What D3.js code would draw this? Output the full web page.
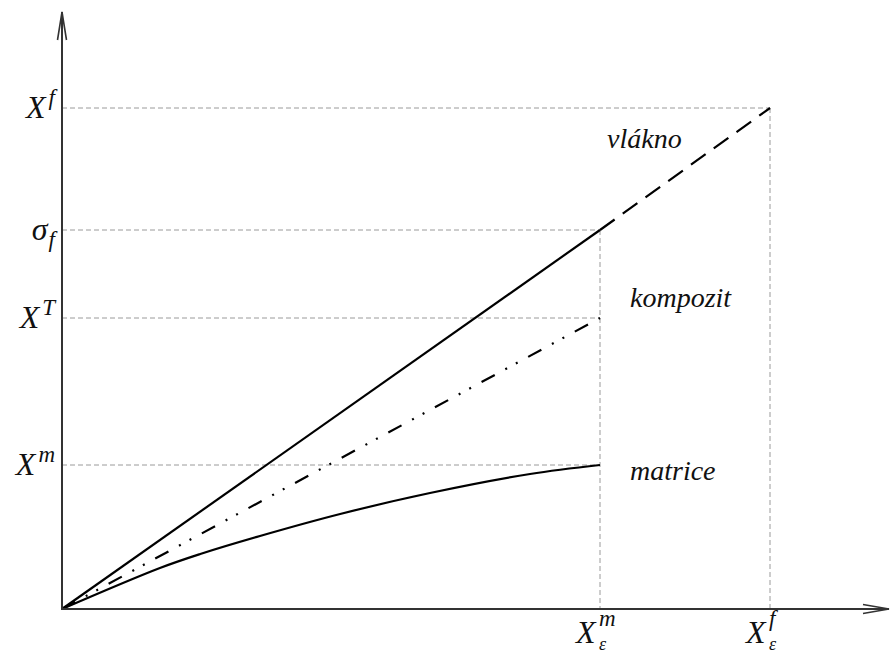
<!DOCTYPE html>
<html>
<head>
<meta charset="utf-8">
<script src="https://cdnjs.cloudflare.com/ajax/libs/d3/7.8.5/d3.min.js"></script>
<style>
  body { margin: 0; background: #fff; }
  text { font-family: 'Liberation Serif', 'DejaVu Serif', serif; font-style: italic; fill: #111; }
</style>
</head>
<body>
<svg id="chart" width="891" height="655"></svg>
<script>
// strain (x) in units of X_eps^m, stress (y) in arbitrary units
var strainLimits = [1.0, 1.316];          // X_eps^m, X_eps^f
var stressLevels = [5.01, 3.79, 2.91, 1.44]; // X^f, sigma_f, X^T, X^m
var stressNames = ["X", "σ", "X", "X"];
var stressMarks = ["f", "f", "T", "m"];
var stressMarkType = ["sup", "sub", "sup", "sup"];

// matrix curve (concave)
var matrixX = [0, 0.182, 0.257, 0.368, 0.517, 0.684, 0.870, 1.0];
var matrixY = [0, 0.41, 0.55, 0.73, 0.95, 1.16, 1.35, 1.44];

var curveNames = ["vlákno", "kompozit", "matrice"];

var svg = d3.select("#chart");

var x = d3.scaleLinear().domain([0, 1]).range([62, 600]);
var y = d3.scaleLinear().domain([0, 1]).range([609, 509]);

var xMax = x.invert(889), yMax = y.invert(12);

// grey guide lines
var guides = svg.append("g")
  .attr("stroke", "#9a9a9a")
  .attr("stroke-width", 1)
  .attr("stroke-dasharray", "5,3")
  .attr("fill", "none");

guides.append("line").attr("x1", x(0)).attr("x2", x(strainLimits[1])).attr("y1", y(stressLevels[0])).attr("y2", y(stressLevels[0]));
guides.append("line").attr("x1", x(0)).attr("x2", x(strainLimits[0])).attr("y1", y(stressLevels[1])).attr("y2", y(stressLevels[1]));
guides.append("line").attr("x1", x(0)).attr("x2", x(strainLimits[0])).attr("y1", y(stressLevels[2])).attr("y2", y(stressLevels[2]));
guides.append("line").attr("x1", x(0)).attr("x2", x(strainLimits[0])).attr("y1", y(stressLevels[3])).attr("y2", y(stressLevels[3]));
guides.append("line").attr("x1", x(strainLimits[0])).attr("x2", x(strainLimits[0])).attr("y1", y(stressLevels[1])).attr("y2", y(0));
guides.append("line").attr("x1", x(strainLimits[1])).attr("x2", x(strainLimits[1])).attr("y1", y(stressLevels[0])).attr("y2", y(0));

var line = d3.line().x(function(d) { return x(d[0]); }).y(function(d) { return y(d[1]); });

// fibre: solid up to X_eps^m, dashed to X_eps^f
svg.append("path")
  .attr("d", line([[0, 0], [strainLimits[0], stressLevels[1]]]))
  .attr("stroke", "#000").attr("stroke-width", 2.2).attr("fill", "none");
svg.append("path")
  .attr("d", line([[strainLimits[0], stressLevels[1]], [strainLimits[1], stressLevels[0]]]))
  .attr("stroke", "#000").attr("stroke-width", 2.2).attr("fill", "none")
  .attr("stroke-dasharray", "18,10");

// composite: dash-dot-dot
svg.append("path")
  .attr("d", line([[0, 0], [strainLimits[0], stressLevels[2]]]))
  .attr("stroke", "#000").attr("stroke-width", 2.2).attr("fill", "none")
  .attr("stroke-dasharray", "15,12,2,10,2,12");

// matrix
svg.append("path")
  .datum(d3.zip(matrixX, matrixY))
  .attr("d", line.curve(d3.curveCatmullRom))
  .attr("stroke", "#000").attr("stroke-width", 2.2).attr("fill", "none");

// axes with open arrowheads
var axes = svg.append("g").attr("stroke", "#333").attr("stroke-width", 2).attr("fill", "none");
axes.append("line").attr("x1", x(0)).attr("y1", y(0) + 1).attr("x2", x(0)).attr("y2", y(yMax));
axes.append("line").attr("x1", x(0) - 1).attr("y1", y(0)).attr("x2", x(xMax)).attr("y2", y(0));
axes.append("path").attr("stroke-width", 1.6)
  .attr("d", "M" + (x(0) - 4.5) + "," + (y(yMax) + 28) + "L" + x(0) + "," + y(yMax) + "L" + (x(0) + 4.5) + "," + (y(yMax) + 28));
axes.append("path").attr("stroke-width", 1.6)
  .attr("d", "M" + (x(xMax) - 26) + "," + (y(0) - 4.5) + "L" + x(xMax) + "," + y(0) + "L" + (x(xMax) - 26) + "," + (y(0) + 4.5));

// y labels
stressLevels.forEach(function(v, i) {
  var t = svg.append("text")
    .attr("x", x(0) - 7)
    .attr("y", y(v) + 10)
    .attr("text-anchor", "end")
    .style("font-size", "32px");
  t.append("tspan").text(stressNames[i]);
  t.append("tspan")
    .attr("dx", stressMarkType[i] === "sup" ? 3 : 1)
    .attr("dy", stressMarkType[i] === "sup" ? -13 : 7)
    .style("font-size", "23px")
    .text(stressMarks[i]);
});

// x labels (X with stacked super- and subscript)
var xMarks = ["m", "f"];
strainLimits.forEach(function(v, i) {
  var cx = x(v);
  var t = svg.append("text").attr("x", cx - 24).attr("y", 643).style("font-size", "32px");
  t.append("tspan").text("X");
  t.append("tspan").attr("x", cx - 1).attr("dy", -17).style("font-size", "23px").text(xMarks[i]);
  t.append("tspan").attr("x", cx - 1).attr("dy", 24).style("font-size", "18px").text("ε");
});

// curve names
var namePos = [[607, 148], [630, 307], [630, 480]];
curveNames.forEach(function(n, i) {
  svg.append("text")
    .attr("x", namePos[i][0])
    .attr("y", namePos[i][1])
    .style("font-size", "28px")
    .text(n);
});
</script>
</body>
</html>
